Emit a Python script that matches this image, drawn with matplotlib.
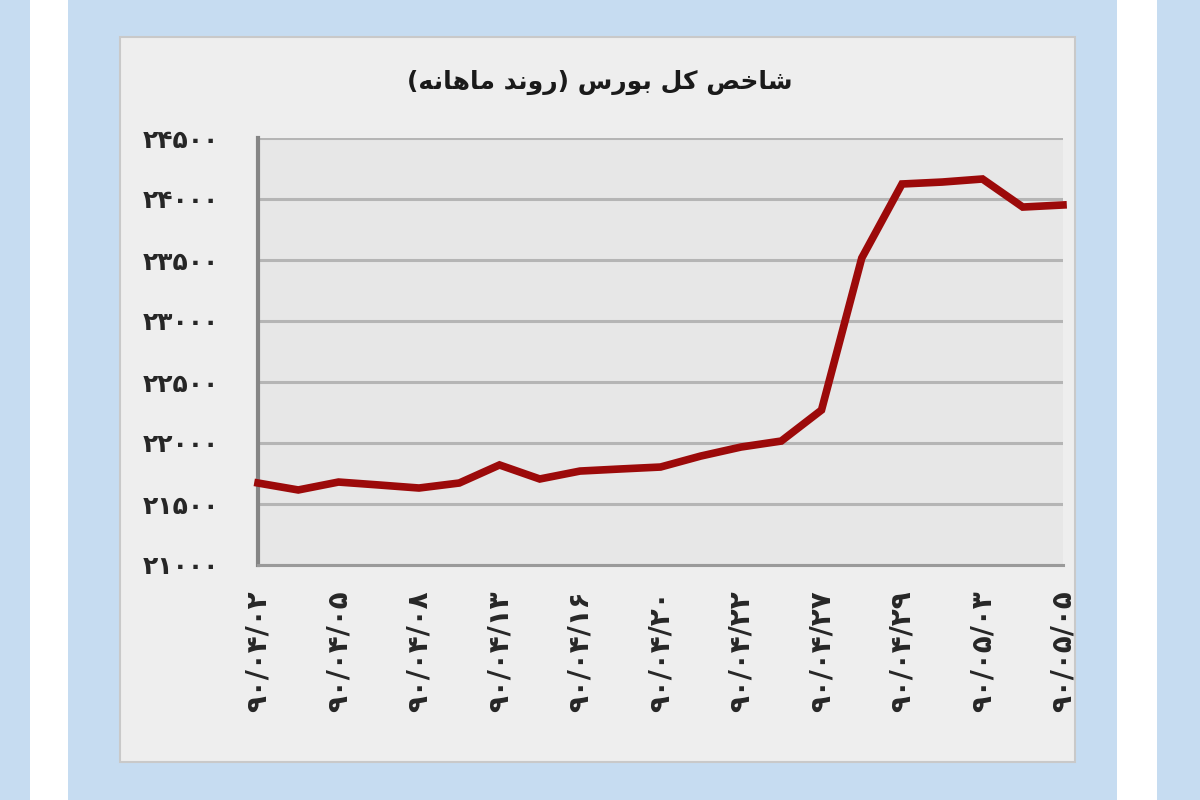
import matplotlib
matplotlib.use("Agg")
import matplotlib.pyplot as plt
from matplotlib.patches import Rectangle

# index values (one per trading day)
index_values = [21672, 21615, 21680, 21656, 21631, 21672, 21820, 21705, 21770,
                21787, 21803, 21893, 21967, 22016, 22270, 23516, 24123, 24139,
                24164, 23934, 23951]
# every second day is labelled
date_labels = ["۹۰/۰۴/۰۲", "۹۰/۰۴/۰۵", "۹۰/۰۴/۰۸", "۹۰/۰۴/۱۳", "۹۰/۰۴/۱۶",
               "۹۰/۰۴/۲۰", "۹۰/۰۴/۲۲", "۹۰/۰۴/۲۷", "۹۰/۰۴/۲۹", "۹۰/۰۵/۰۳",
               "۹۰/۰۵/۰۵"]
y_ticks = [21000, 21500, 22000, 22500, 23000, 23500, 24000, 24500]

# "شاخص کل بورس (روند ماهانه)" written in shaped glyphs, visual order
title_text = ("(\uFEEA\uFEE7\uFE8E\uFEEB\uFE8E\uFEE3 \uFEAA\uFEE7\uFEED\uFEAD) "
              "\uFEB1\uFEAD\uFEEE\uFE91 \uFEDE\uFB90 \uFEBA\uFEA7\uFE8E\uFEB7")

persian_digits = str.maketrans("0123456789", "۰۱۲۳۴۵۶۷۸۹")


def to_persian(n):
  return str(n).translate(persian_digits)


plt.rcParams['font.family'] = ['DejaVu Sans']

fig = plt.figure(figsize=(12, 8), dpi=100)
fig.patch.set_facecolor("#c6dcf1")
# white strips at the sides of the page
fig.patches.append(Rectangle((30 / 1200, 0), 38 / 1200, 1, transform=fig.transFigure,
                             facecolor="white", edgecolor="none", zorder=-2))
fig.patches.append(Rectangle((1117 / 1200, 0), 40 / 1200, 1, transform=fig.transFigure,
                             facecolor="white", edgecolor="none", zorder=-2))
# grey chart panel
fig.patches.append(Rectangle((120 / 1200, 38 / 800), 955 / 1200, 725 / 800,
                             transform=fig.transFigure, facecolor="#eeeeee",
                             edgecolor="#c9c9c9", linewidth=1.5, zorder=-1))

ax = fig.add_axes([258 / 1200, 235 / 800, 805 / 1200, 427 / 800])
ax.set_zorder(2)
ax.set_facecolor("#e7e7e7")

x = list(range(len(index_values)))
ax.plot(x, index_values, color="#9c0a0a", linewidth=5.5, solid_joinstyle="miter",
        clip_on=False, zorder=3)

ax.set_xlim(0, len(index_values) - 1)
ax.set_ylim(y_ticks[0], y_ticks[-1])
ax.set_yticks(y_ticks)
ax.set_yticklabels([to_persian(v) for v in y_ticks], fontsize=18, fontweight="bold",
                   color="#262626")
ax.set_xticks(x[::2])
ax.set_xticklabels(date_labels, rotation=90, fontsize=20, fontweight="bold",
                   color="#262626")
ax.tick_params(axis="y", length=0, pad=28)
ax.tick_params(axis="x", length=0, pad=18)

ax.grid(axis="y", color="#b5b5b5", linewidth=2.2)
ax.set_axisbelow(True)
for side in ["top", "right"]:
  ax.spines[side].set_visible(False)
ax.spines["left"].set_color("#858585")
ax.spines["left"].set_linewidth(3)
ax.spines["bottom"].set_color("#9a9a9a")
ax.spines["bottom"].set_linewidth(2.2)

fig.text(0.5, 1 - 82 / 800, title_text, ha="center", va="center", fontsize=18,
         fontweight="bold", color="#1a1a1a")

fig.savefig("out.png", dpi=100, facecolor=fig.get_facecolor())
